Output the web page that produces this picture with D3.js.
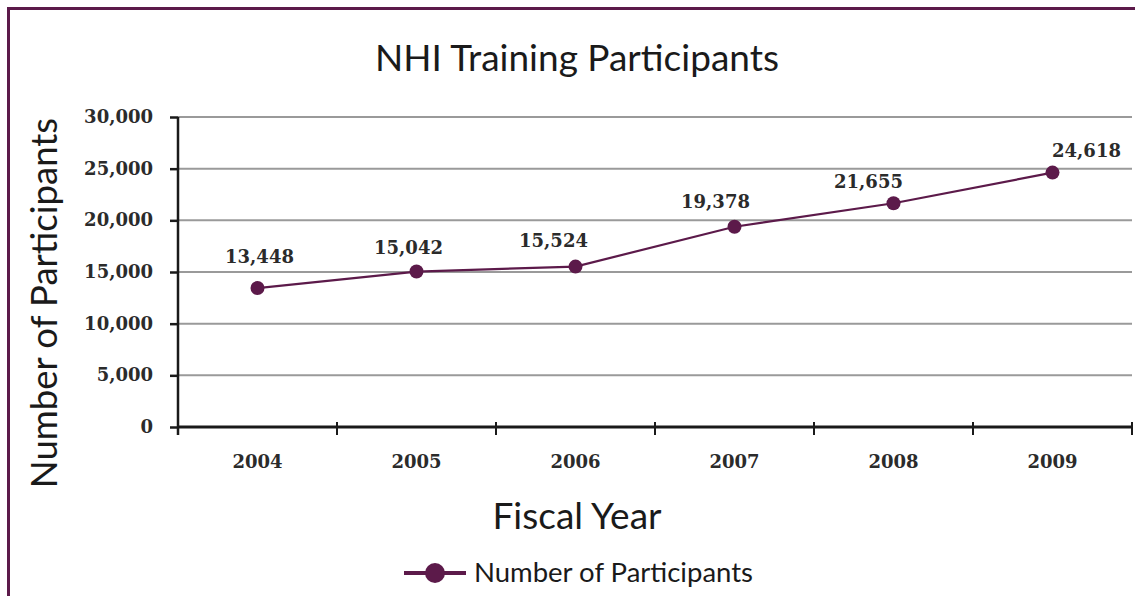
<!DOCTYPE html>
<html>
<head>
	<meta charset="utf-8">
	<title>NHI Training Participants</title>
	<script src="https://cdn.jsdelivr.net/npm/d3@7"></script>
	<style type="text/css">
		body {
			margin: 0;
			background-color: #ffffff;
		}
		.grid line {
			stroke: #9a9a9a;
			stroke-width: 2px;
		}
		.tick-label {
			font-family: 'DejaVu Serif', serif;
			font-weight: bold;
			font-size: 18px;
			fill: #2b2b2b;
		}
		.title-text {
			font-family: 'Lato', sans-serif;
			fill: #1a1a1a;
		}
	</style>
</head>
<body>
	<div id="chart"></div>

	<script type="text/javascript">

		var years = ['2004', '2005', '2006', '2007', '2008', '2009'];
		var participants = [13448, 15042, 15524, 19378, 21655, 24618];
		var yTicks = [0, 5000, 10000, 15000, 20000, 25000, 30000];

		var w = 1135;
		var h = 596;
		var lineColor = '#5c1a4a';

		var margin = { left: 178, right: 3, top: 117, bottom: 169 };

		var svg = d3.select('#chart')
			.append('svg')
			.attr('width', w)
			.attr('height', h);

		// outer frame (right and bottom edges fall outside the picture)
		svg.append('rect')
			.attr('x', 8.5)
			.attr('y', 8.5)
			.attr('width', 1140)
			.attr('height', 600)
			.attr('fill', 'none')
			.attr('stroke', lineColor)
			.attr('stroke-width', 3);

		var x = d3.scaleBand()
			.domain(years)
			.range([margin.left, w - margin.right])
			.padding(0);

		var y = d3.scaleLinear()
			.domain([0, 30000])
			.range([h - margin.bottom, margin.top]);

		var fmt = d3.format(',');

		// grid lines
		svg.append('g')
			.attr('class', 'grid')
			.selectAll('line')
			.data(yTicks.filter(function(d){ return d > 0; }))
			.enter()
			.append('line')
			.attr('x1', margin.left)
			.attr('x2', w - margin.right)
			.attr('y1', function(d){ return y(d); })
			.attr('y2', function(d){ return y(d); });

		// y axis
		var yAxis = svg.append('g')
			.attr('transform', 'translate(' + margin.left + ',0)')
			.call(d3.axisLeft(y).tickValues(yTicks).tickFormat(fmt).tickSize(8).tickPadding(17));
		yAxis.select('.domain').remove();
		yAxis.selectAll('.tick line').attr('stroke', '#1a1a1a').attr('stroke-width', 2.5);
		yAxis.selectAll('.tick text').attr('class', 'tick-label').attr('dy', '0.3em');
		yAxis.append('line')
			.attr('x1', 0).attr('x2', 0)
			.attr('y1', y(30000)).attr('y2', y(0) + 8)
			.attr('stroke', '#1a1a1a')
			.attr('stroke-width', 2.5);

		// x axis
		var xAxis = svg.append('g')
			.attr('transform', 'translate(0,' + y(0) + ')');
		xAxis.append('line')
			.attr('x1', margin.left).attr('x2', w - margin.right)
			.attr('y1', 0).attr('y2', 0)
			.attr('stroke', '#1a1a1a')
			.attr('stroke-width', 3);
		xAxis.selectAll('.xtick')
			.data(years.concat(['end']))
			.enter()
			.append('line')
			.attr('class', 'xtick')
			.attr('x1', function(d, i){ return margin.left + i * x.bandwidth(); })
			.attr('x2', function(d, i){ return margin.left + i * x.bandwidth(); })
			.attr('y1', -5)
			.attr('y2', 8)
			.attr('stroke', '#1a1a1a')
			.attr('stroke-width', 2);
		xAxis.selectAll('.xlabel')
			.data(years)
			.enter()
			.append('text')
			.attr('class', 'tick-label')
			.attr('x', function(d){ return x(d) + x.bandwidth() / 2; })
			.attr('y', 41)
			.attr('text-anchor', 'middle')
			.text(function(d){ return d; });

		// series line
		var points = years.map(function(d, i){ return { year: d, value: participants[i] }; });

		var line = d3.line()
			.x(function(d){ return x(d.year) + x.bandwidth() / 2; })
			.y(function(d){ return y(d.value); });

		svg.append('path')
			.datum(points)
			.attr('d', line)
			.attr('fill', 'none')
			.attr('stroke', lineColor)
			.attr('stroke-width', 2.2);

		svg.selectAll('.dot')
			.data(points)
			.enter()
			.append('circle')
			.attr('class', 'dot')
			.attr('cx', function(d){ return x(d.year) + x.bandwidth() / 2; })
			.attr('cy', function(d){ return y(d.value); })
			.attr('r', 7)
			.attr('fill', lineColor);

		// data labels (excel nudges them a bit)
		var labelDx = [2, -8, -22, -19, -25, 34];
		var labelDy = [-25, -18, -20, -19, -15, -16];

		svg.selectAll('.dlabel')
			.data(points)
			.enter()
			.append('text')
			.attr('class', 'tick-label')
			.attr('x', function(d, i){ return x(d.year) + x.bandwidth() / 2 + labelDx[i]; })
			.attr('y', function(d, i){ return y(d.value) + labelDy[i]; })
			.attr('text-anchor', 'middle')
			.text(function(d){ return fmt(d.value); });

		// titles
		svg.append('text')
			.attr('class', 'title-text')
			.attr('x', 577)
			.attr('y', 71)
			.attr('text-anchor', 'middle')
			.attr('font-size', '37px')
			.text('NHI Training Participants');

		svg.append('text')
			.attr('class', 'title-text')
			.attr('x', 577)
			.attr('y', 529)
			.attr('text-anchor', 'middle')
			.attr('font-size', '37px')
			.text('Fiscal Year');

		svg.append('text')
			.attr('class', 'title-text')
			.attr('transform', 'translate(57,303) rotate(-90)')
			.attr('text-anchor', 'middle')
			.attr('font-size', '36.5px')
			.text('Number of Participants');

		// legend
		var legend = svg.append('g');
		legend.append('line')
			.attr('x1', 404).attr('x2', 466)
			.attr('y1', 573).attr('y2', 573)
			.attr('stroke', lineColor)
			.attr('stroke-width', 4);
		legend.append('circle')
			.attr('cx', 435)
			.attr('cy', 573)
			.attr('r', 10)
			.attr('fill', lineColor);
		legend.append('text')
			.attr('class', 'title-text')
			.attr('x', 474)
			.attr('y', 582)
			.attr('font-size', '27.5px')
			.text('Number of Participants');

	</script>
</body>
</html>
